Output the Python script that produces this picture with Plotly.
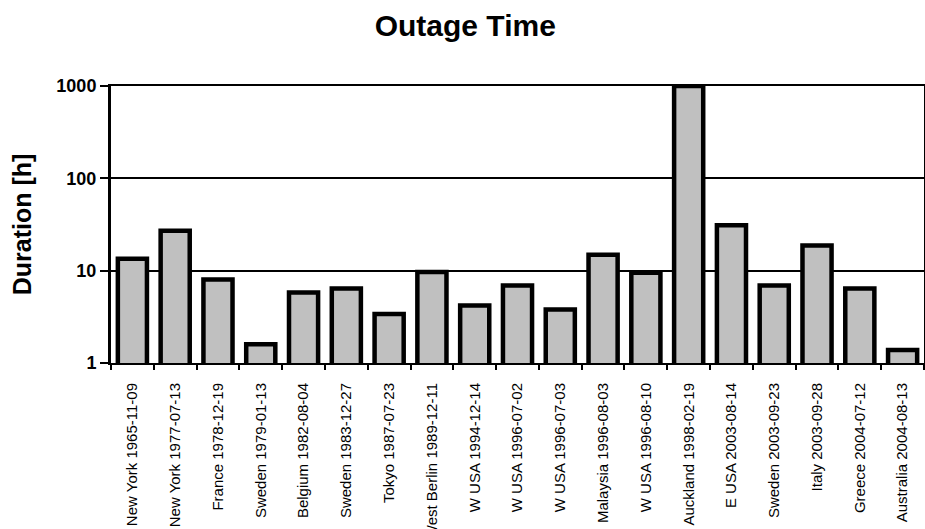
import plotly.graph_objects as go

categories = [
    "New York 1965-11-09", "New York 1977-07-13", "France 1978-12-19",
    "Sweden 1979-01-13", "Belgium 1982-08-04", "Sweden 1983-12-27",
    "Tokyo 1987-07-23", "West Berlin 1989-12-11", "W USA 1994-12-14",
    "W USA 1996-07-02", "W USA 1996-07-03", "Malaysia 1996-08-03",
    "W USA 1996-08-10", "Auckland 1998-02-19", "E USA 2003-08-14",
    "Sweden 2003-09-23", "Italy 2003-09-28", "Greece 2004-07-12",
    "Australia 2004-08-13",
]
duration_h = [13.5, 27, 8.0, 1.6, 5.8, 6.4, 3.4, 9.7, 4.2, 6.9,
              3.8, 14.9, 9.5, 1000, 31, 6.9, 18.7, 6.4, 1.38]

y_tickvals = [1, 10, 100, 1000]
y_ticktext = ["1", "10", "100", "1000"]

FONT = "Liberation Sans, Arial, sans-serif"

fig = go.Figure(go.Bar(
    x=categories, y=duration_h,
    marker=dict(color="#c0c0c0", line=dict(color="black", width=4.5)),
))

fig.update_layout(
    width=925, height=529,
    margin=dict(l=111, r=1, t=86, b=166),
    paper_bgcolor="white", plot_bgcolor="white",
    bargap=0.32,
    showlegend=False,
    font=dict(family=FONT, color="black"),
    title=dict(text="<b>Outage Time</b>", x=0.503, xanchor="center",
               y=0.951, yanchor="middle",
               font=dict(family=FONT, size=30, color="black")),
)

fig.update_xaxes(
    type="category", automargin=False,
    showline=True, linecolor="black", linewidth=2, mirror=True,
    ticks="outside", tickson="boundaries", ticklen=5, tickcolor="black",
    tickwidth=1.5, tickangle=-90, ticklabelstandoff=12,
    tickfont=dict(family=FONT, size=15, color="black"),
    showgrid=False,
)
fig.update_yaxes(
    type="log", range=[0, 3], automargin=False,
    tickvals=y_tickvals, ticktext=y_ticktext,
    ticks="outside", ticklen=8, tickcolor="black", tickwidth=2,
    tickfont=dict(family=FONT, size=18, color="black", weight="bold"),
    showline=True, linecolor="black", linewidth=3, mirror=True,
    showgrid=True, gridcolor="black", gridwidth=1.5,
    zeroline=False,
    title=dict(text="<b>Duration [h]</b>", standoff=18,
               font=dict(family=FONT, size=25, color="black")),
)

fig.write_html("out.html")
